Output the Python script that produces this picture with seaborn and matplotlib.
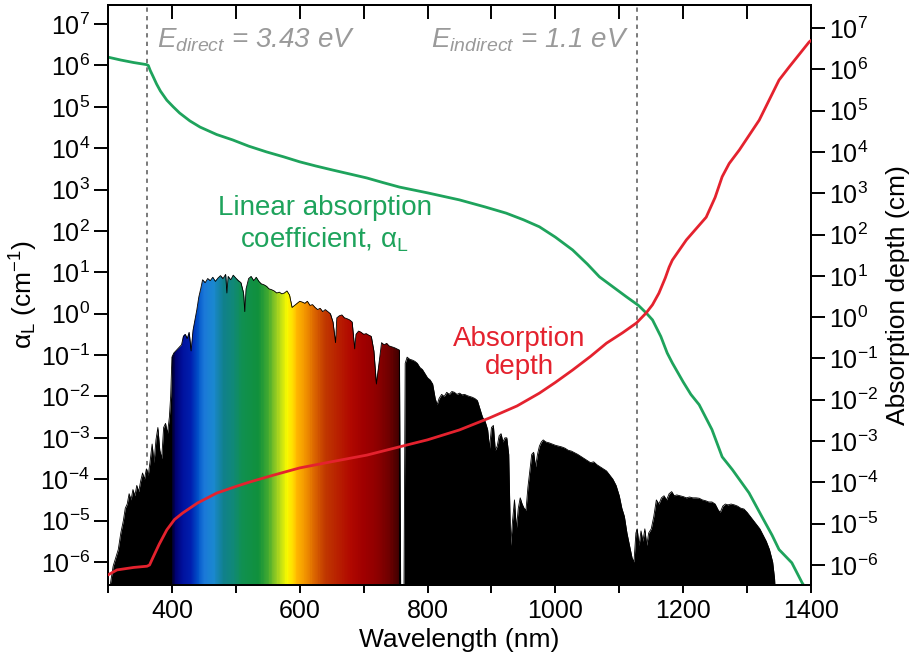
import numpy as np
import pandas as pd
import matplotlib
matplotlib.use("Agg")
import matplotlib.pyplot as plt
import seaborn as sns
from matplotlib.colors import LinearSegmentedColormap
from matplotlib.ticker import LogLocator, NullLocator, FixedLocator

# ---------------- data ----------------
# linear absorption coefficient alpha_L (cm^-1): wavelength (nm), log10 value
alpha_wl = [300, 320, 340, 360, 363, 366, 370, 376, 382, 392, 402, 412, 428, 444, 470,
            495, 520, 548, 575, 600, 625, 652, 680, 705, 730, 756, 800, 850, 890, 923,
            950, 975, 1000, 1027, 1050, 1069, 1090, 1111, 1130, 1142, 1152, 1165, 1175,
            1183, 1200, 1212, 1225, 1245, 1261, 1277, 1303, 1323, 1339, 1350, 1370, 1386, 1392]
alpha_log = [6.20, 6.13, 6.07, 6.02, 6.00, 5.88, 5.75, 5.55, 5.38, 5.16, 5.00, 4.85, 4.66, 4.51, 4.33,
             4.20, 4.05, 3.91, 3.79, 3.67, 3.57, 3.47, 3.37, 3.28, 3.17, 3.06, 2.92, 2.75, 2.58, 2.43,
             2.27, 2.10, 1.85, 1.54, 1.20, 0.89, 0.65, 0.41, 0.20, 0.02, -0.15, -0.55, -0.95,
             -1.19, -1.65, -1.95, -2.20, -2.80, -3.46, -3.77, -4.33, -4.90, -5.35, -5.70, -6.02, -6.50, -6.65]

# absorption depth (cm): wavelength (nm), log10 value
depth_wl = [300, 314, 340, 361, 365, 370, 380, 392, 404, 417, 440, 470, 500, 522, 560,
            600, 650, 705, 756, 800, 850, 897, 940, 975, 1000, 1027, 1055, 1080, 1105,
            1127, 1142, 1152, 1162, 1172, 1178, 1183, 1205, 1236, 1250, 1261, 1272, 1288, 1319,
            1350, 1366, 1381, 1397, 1400]
depth_log = [-6.24, -6.12, -6.06, -6.03, -6.00, -5.83, -5.50, -5.15, -4.90, -4.74, -4.50, -4.26, -4.10, -3.99, -3.82,
             -3.65, -3.50, -3.34, -3.14, -2.97, -2.73, -2.44, -2.15, -1.84, -1.58, -1.28, -0.95, -0.63, -0.38,
             -0.14, 0.10, 0.30, 0.58, 0.95, 1.21, 1.38, 1.87, 2.42, 2.90, 3.40, 3.72, 4.05, 4.77,
             5.74, 6.06, 6.35, 6.66, 6.70]

# solar spectrum (arbitrary units, on the left axis): wavelength (nm), log10 value
spec_wl = [300, 304, 308, 312, 316, 320, 324, 327, 330, 333, 336, 339, 342, 345, 348, 351, 354, 357,
           360, 363, 366, 369, 372, 375, 378, 381, 384, 387, 390, 393, 396, 398,
           400, 403, 406, 409, 412, 415, 418, 421, 424, 427, 430, 433, 436, 439, 442, 445, 448,
           452, 456, 460, 464, 468, 472, 476, 480, 484, 486, 488, 492, 496, 500, 504, 508, 512,
           514, 516, 520, 524, 528, 532, 536, 540, 544, 548, 552, 556, 560, 564, 568, 572, 576,
           580, 584, 588, 592, 596, 600, 604, 608, 612, 616, 620, 624, 628, 632, 636, 640, 644,
           648, 652, 656, 658, 662, 666, 670, 674, 678, 682, 686, 688, 692, 696, 700, 704, 708,
           712, 716, 720, 724, 728, 732, 736, 740, 744, 748, 752, 756, 758, 763, 765, 768, 772,
           776, 780, 784, 788, 792, 796, 800, 804, 808, 812, 815, 818, 822, 826, 830, 834, 838,
           842, 846, 850, 854, 858, 862, 866, 870, 874, 878, 882, 886, 890, 894, 897, 900, 903,
           906, 909, 912, 915, 918, 921, 924, 927, 930, 933, 936, 939, 942, 945, 948, 951, 954,
           957, 960, 963, 966, 969, 972, 975, 978, 981, 985, 990, 995, 1000, 1005, 1010, 1015,
           1020, 1025, 1030, 1035, 1040, 1045, 1050, 1055, 1060, 1065, 1070, 1075, 1080, 1085,
           1090, 1095, 1100, 1104, 1108, 1112, 1116, 1120, 1123, 1126, 1128, 1131, 1134, 1137,
           1140, 1143, 1146, 1150, 1154, 1158, 1162, 1166, 1170, 1174, 1178, 1182, 1186, 1190,
           1195, 1200, 1205, 1210, 1215, 1220, 1225, 1230, 1235, 1240, 1245, 1250, 1255, 1258,
           1262, 1266, 1270, 1275, 1280, 1285, 1290, 1295, 1300, 1305, 1310, 1315, 1320, 1325,
           1330, 1335, 1340, 1343, 1345]
spec_log = [-7.0, -6.5, -6.1, -5.9, -5.7, -5.3, -5.0, -4.7, -4.6, -4.35, -4.5, -4.25, -4.4, -4.15, -4.3, -4.05, -3.85, -4.0,
            -3.75, -3.9, -3.55, -3.15, -3.6, -3.05, -2.75, -3.3, -3.5, -2.75, -2.65, -2.9, -2.5, -2.0,
            -1.05, -0.95, -0.9, -0.85, -0.8, -0.75, -0.55, -0.5, -0.6, -0.45, -0.9, -0.4, -0.15, 0.1, 0.4, 0.6, 0.82,
            0.75, 0.85, 0.8, 0.88, 0.78, 0.86, 0.92, 0.85, 0.95, 0.5, 0.9, 0.82, 0.93, 0.86, 0.8, 0.75, 0.5,
            0.05, 0.6, 0.85, 0.9, 0.8, 0.88, 0.78, 0.72, 0.7, 0.66, 0.6, 0.58, 0.55, 0.5, 0.52, 0.48, 0.5,
            0.55, 0.45, 0.15, 0.2, 0.25, 0.3, 0.28, 0.25, 0.3, 0.2, 0.22, 0.15, 0.1, 0.13, 0.05, 0.1, 0.05,
            0.0, -0.2, -0.7, -0.1, -0.05, -0.03, -0.1, -0.12, -0.15, -0.2, -0.85, -0.5, -0.42, -0.45, -0.5, -0.48, -0.52,
            -0.55, -0.9, -1.7, -1.2, -0.7, -0.75, -0.72, -0.78, -0.8, -0.82, -0.85, -0.88, -7.0, -7.0, -1.2, -1.05, -1.1,
            -1.12, -1.15, -1.2, -1.3, -1.35, -1.45, -1.55, -1.6, -1.7, -2.05, -2.2, -2.05, -1.95, -2.0, -1.9, -1.95, -1.88,
            -1.9, -1.95, -1.92, -1.96, -1.95, -1.98, -2.0, -2.02, -2.05, -2.1, -2.3, -2.5, -2.6, -2.8, -3.25, -2.75, -2.7,
            -3.3, -3.2, -2.95, -2.9, -3.1, -3.0, -3.0, -3.4, -5.6, -5.0, -4.5, -5.2, -4.7, -4.45, -4.6, -4.7, -4.75,
            -4.2, -3.8, -3.4, -3.35, -3.7, -3.4, -3.2, -3.1, -3.05, -3.1, -3.12, -3.15, -3.18, -3.2, -3.22, -3.25,
            -3.3, -3.32, -3.36, -3.4, -3.45, -3.5, -3.55, -3.6, -3.58, -3.65, -3.7, -3.75, -3.8, -3.9,
            -4.0, -4.15, -4.4, -4.7, -4.9, -5.3, -5.6, -5.9, -6.0, -5.3, -5.2, -5.6, -5.25, -5.5,
            -5.2, -5.6, -5.3, -5.2, -4.9, -4.5, -4.6, -4.45, -4.4, -4.5, -4.35, -4.3, -4.4, -4.38,
            -4.4, -4.42, -4.45, -4.43, -4.45, -4.45, -4.46, -4.5, -4.52, -4.55, -4.55, -4.6, -4.75, -4.8,
            -4.65, -4.6, -4.62, -4.6, -4.62, -4.65, -4.7, -4.72, -4.8, -4.9, -5.0, -5.1, -5.2, -5.35,
            -5.5, -5.7, -6.0, -6.4, -7.0]

# visible-light colour stops (nm, colour)
vis_wl = [400, 405, 415, 430, 440, 450, 465, 480, 495, 510, 535, 550, 565, 580, 588,
          595, 610, 625, 640, 660, 680, 700, 720, 740, 756]
vis_col = ["#000030", "#000070", "#00109a", "#0020b0", "#0050c8", "#1a78d8", "#1a88d0",
           "#10808c", "#108878", "#109050", "#10903c", "#40a830", "#a0d020", "#f8f800",
           "#ffe000", "#ffb800", "#f09000", "#d86000", "#c03800", "#b82000", "#b00800",
           "#a00000", "#900000", "#700000", "#400000"]

band_wl = [361.5, 1127.0]

xticks_major = [400, 600, 800, 1000, 1200, 1400]

# ---------------- style ----------------
sns.set_style("ticks")
plt.rcParams['font.family'] = ['Liberation Sans', 'DejaVu Sans']
plt.rcParams['mathtext.fontset'] = 'custom'
plt.rcParams['mathtext.rm'] = 'Liberation Sans'
plt.rcParams['mathtext.it'] = 'Liberation Sans:italic'
plt.rcParams['mathtext.bf'] = 'Liberation Sans:bold'
plt.rcParams['axes.linewidth'] = 1.4
for k in ('text.color', 'axes.labelcolor', 'xtick.color', 'ytick.color', 'axes.edgecolor'):
    plt.rcParams[k] = 'black'

GREEN = "#1ea35c"
RED = "#e4222e"
GREY = "#9a9a9a"

fig = plt.figure(figsize=(9.17, 6.68), dpi=100)
ax = fig.add_axes([0.1178, 0.1243, 0.7666, 0.8682])
ax2 = ax.twinx()

ax.set_yscale("log")
ax2.set_yscale("log")
ax.set_xlim(300, 1400)
ax.set_ylim(10 ** -6.556, 10 ** 7.46)
ax2.set_ylim(10 ** -6.484, 10 ** 7.557)

# band-gap dashed lines (behind spectrum)
for wl in band_wl:
    ax.axvline(wl, color="#7a7a7a", lw=1.4, ls=(0, (2.2, 2.2)), zorder=1)

# solar spectrum
sw = np.array(spec_wl, dtype=float)
sv = 10.0 ** np.array(spec_log)
poly = ax.fill_between(sw, 1e-9, sv, color="black", lw=0, zorder=2)
ax.plot(sw, sv, color="black", lw=0.6, zorder=3.5)

# rainbow clipped to the spectrum
cmap = LinearSegmentedColormap.from_list(
    "vis", [((w - vis_wl[0]) / (vis_wl[-1] - vis_wl[0]), c) for w, c in zip(vis_wl, vis_col)])
xe = np.linspace(vis_wl[0], vis_wl[-1], 400)
ye = np.array([1e-9, 1e9])
xc = 0.5 * (xe[:-1] + xe[1:])
C = ((xc - vis_wl[0]) / (vis_wl[-1] - vis_wl[0]))[None, :]
mesh = ax.pcolormesh(xe, ye, C, cmap=cmap, vmin=0, vmax=1, shading="flat", zorder=3,
                     rasterized=True)
mesh.set_clip_path(poly.get_paths()[0], ax.transData)

# curves
df_a = pd.DataFrame({"wl": alpha_wl, "val": 10.0 ** np.array(alpha_log)})
df_d = pd.DataFrame({"wl": depth_wl, "val": 10.0 ** np.array(depth_log)})
sns.lineplot(data=df_a, x="wl", y="val", ax=ax, color=GREEN, lw=2.0, zorder=5)
sns.lineplot(data=df_d, x="wl", y="val", ax=ax2, color=RED, lw=2.0, zorder=5)

# ticks
ax.xaxis.set_major_locator(FixedLocator(xticks_major))
ax.xaxis.set_minor_locator(FixedLocator([300, 500, 700, 900, 1100, 1300]))
ax.tick_params(axis="x", which="both", direction="out", length=6, width=1.4,
               top=False, labelsize=18, pad=4)
sec = ax.secondary_xaxis("top")
sec.xaxis.set_major_locator(FixedLocator(list(range(400, 1400, 100))))
sec.tick_params(axis="x", which="both", direction="in", length=10, width=1.4, labeltop=False)
sec.spines["top"].set_linewidth(1.4)

for a in (ax, ax2):
    a.yaxis.set_major_locator(LogLocator(base=10, numticks=40))
    a.yaxis.set_minor_locator(NullLocator())
ax.tick_params(axis="y", which="both", direction="out", length=10, width=1.4,
               right=False, labelsize=18, pad=3)
ax2.tick_params(axis="y", which="both", direction="out", length=10, width=1.4,
                labelsize=18, pad=3)

ax.set_xlabel("Wavelength (nm)", fontsize=19, labelpad=4)
ax.set_ylabel(r"α$_\mathregular{L}$ (cm$^\mathregular{-1}$)", fontsize=19, labelpad=0)
ax2.set_ylabel("Absorption depth (cm)", fontsize=19, labelpad=5)

# annotations
ax.text(377, 10 ** 6.44, r"$E_{direct}$ = 3.43 eV", color=GREY, fontsize=20,
        fontstyle="italic", ha="left", va="baseline", zorder=6)
ax.text(806, 10 ** 6.44, r"$E_{indirect}$ = 1.1 eV", color=GREY, fontsize=20,
        fontstyle="italic", ha="left", va="baseline", zorder=6)
ax.text(639, 10 ** 2.15, "Linear absorption\ncoefficient, α$_\\mathregular{L}$", color=GREEN,
        fontsize=20, ha="center", va="center", linespacing=1.2, zorder=6)
ax.text(944, 10 ** -0.95, "Absorption\ndepth", color=RED, fontsize=20,
        ha="center", va="center", linespacing=1.1, zorder=6)

for a in (ax, ax2):
    for s in a.spines.values():
        s.set_linewidth(1.4)
        s.set_color("black")

fig.savefig("out.png", dpi=100)
